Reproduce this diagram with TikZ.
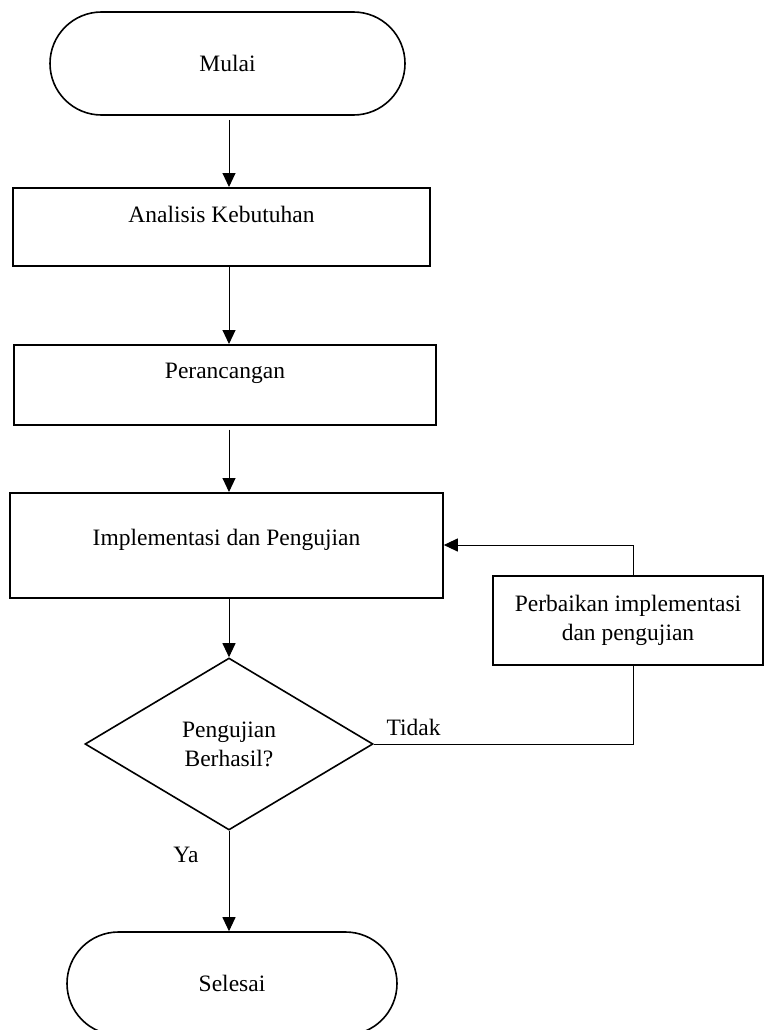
\documentclass[tikz,border=0pt]{standalone}
\usepackage{fontspec}
\setmainfont{Liberation Serif}
\usepackage{tikz}
\usetikzlibrary{positioning, arrows.meta, shapes.misc, shapes.geometric}

\begin{document}
\begin{tikzpicture}[
    x=1pt, y=1pt,
    every node/.style={font=\fontsize{23.5}{29}\selectfont, align=center},
    terminal/.style={draw, rounded rectangle, line width=1.6pt, inner sep=0pt},
    process/.style={draw, rectangle, line width=1.6pt, inner xsep=0pt, inner ysep=0pt},
    decision/.style={draw, diamond, line width=1.6pt, inner sep=0pt},
    every path/.style={black},
    >={Triangle[length=14pt, width=13pt]} % punta de flecha
]
\useasboundingbox (0,0) rectangle (764,-1030);

% Nodos
\node (mulai) [terminal, minimum width=355, minimum height=103] at (227.5,-63.5) {Mulai};
\node (analisis) [process, minimum width=417, text height=35, text depth=43, anchor=north] at (221.5,-187) {Analisis Kebutuhan};
\node (rancang) [process, minimum width=422, text height=34, text depth=46, anchor=north] at (225,-344) {Perancangan};
\node (impl) [process, minimum width=433, text height=53, text depth=52, anchor=north] at (226.5,-492) {Implementasi dan Pengujian};
\node (uji) [decision, minimum width=288, minimum height=172] at (229,-744) {Pengujian\\Berhasil?};
\node (perbaikan) [process, minimum width=270, minimum height=89, inner sep=0pt] at (628,-620.5) {Perbaikan implementasi\\dan pengujian};
\node (selesai) [terminal, minimum width=330, minimum height=103] at (232,-983.5) {Selesai};

% Label
\node (tidak) [anchor=west] at (383,-727) {Tidak};
\node (ya) [anchor=east] at (202,-855) {Ya};

% Flechas
\draw[->, line width=1pt] (uji.north |- 0,-120) -- (analisis.north -| uji.north);
\draw[->, line width=1pt] (analisis.south -| uji.north) -- (rancang.north -| uji.north);
\draw[->, line width=1pt] (rancang.south -| uji.north) ++(0,-4) -- (impl.north -| uji.north);
\draw[->, line width=1pt] (impl.south -| uji.north) -- (uji.north);
\draw[->, line width=1pt] (uji.south) -- (selesai.north -| uji.south);

% Lazo de perbaikan
\draw[line width=1pt] (uji.east) -| ([xshift=5pt]perbaikan.south);
\draw[->, line width=1pt] ([xshift=5pt]perbaikan.north) |- (impl.east |- 0,-545);

\end{tikzpicture}
\end{document}
